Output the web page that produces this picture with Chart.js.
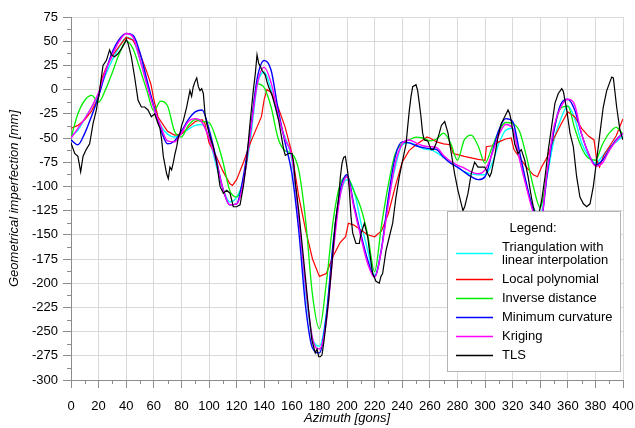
<!DOCTYPE html>
<html>
<head>
<meta charset="utf-8">
<script src="https://cdn.jsdelivr.net/npm/chart.js@4.4.1/dist/chart.umd.min.js"></script>
<style>
  html, body { margin: 0; padding: 0; background: #fff; }
  #wrap { width: 635px; height: 428px; }
</style>
</head>
<body>
<div id="wrap"><canvas id="imperfectionChart" width="635" height="428"></canvas></div>
<script>
// azimuth grid (gons) shared by the interpolated surfaces
var azimuth = [0, 5, 10, 15, 20, 25, 30, 35, 40, 45, 50, 55, 60, 65, 70, 75, 80, 85, 90, 95,
  100, 105, 110, 115, 120, 125, 130, 135, 140, 145, 150, 155, 160, 165, 170, 175, 180, 185, 190, 195,
  200, 205, 210, 215, 220, 225, 230, 235, 240, 245, 250, 255, 260, 265, 270, 275, 280, 285, 290, 295,
  300, 305, 310, 315, 320, 325, 330, 335, 340, 345, 350, 355, 360, 365, 370, 375, 380, 385, 390, 395, 400];

var triangulation = [-48, -42, -30, -18, -4, 15, 31, 44, 54, 51, 31, 7, -18, -37, -46, -49, -46, -41, -37, -36,
  -50, -77, -102, -116, -111, -93, -52, 5, 18, 0, -29, -49, -72, -135, -209, -257, -265, -232, -160, -110,
  -93, -104, -137, -166, -192, -163, -113, -80, -57, -55, -57, -61, -62, -65, -70, -75, -80, -85, -87, -88,
  -88, -77, -56, -42, -40, -70, -99, -122, -130, -90, -52, -30, -17, -30, -55, -69, -76, -69, -60, -54, -48];

var inverseDistance = [-50, -25, -11, -6, -13, 0, 18, 37, 50, 42, 21, -1, -22, -12, -17, -43, -49, -37, -31, -33,
  -34, -50, -74, -104, -111, -92, -45, 6, 2, -18, -50, -63, -66, -83, -135, -212, -247, -200, -135, -98,
  -90, -105, -122, -150, -188, -140, -98, -66, -56, -52, -49, -50, -53, -51, -45, -55, -73, -52, -47, -58,
  -76, -60, -43, -34, -35, -43, -69, -100, -122, -86, -42, -19, -17, -40, -60, -71, -73, -57, -45, -39, -46];

var minimumCurvature = [-52, -57, -45, -27, -7, 18, 39, 52, 58, 56, 38, 10, -17, -41, -56, -53, -43, -31, -23, -21,
  -41, -70, -102, -119, -118, -89, -42, 12, 30, 20, -20, -54, -86, -145, -224, -267, -272, -234, -158, -105,
  -88, -119, -149, -176, -193, -165, -111, -69, -54, -55, -58, -60, -61, -62, -70, -76, -80, -85, -90, -93,
  -90, -66, -42, -30, -33, -64, -97, -125, -140, -88, -42, -15, -10, -21, -46, -66, -78, -73, -62, -52, -45];

var kriging = [-50, -40, -30, -18, -3, 19, 36, 50, 58, 54, 31, 5, -19, -38, -53, -54, -45, -33, -30, -34,
  -50, -73, -102, -119, -118, -96, -45, 6, 23, 7, -25, -51, -69, -131, -203, -257, -268, -240, -168, -110,
  -90, -122, -152, -180, -194, -165, -118, -76, -56, -52, -55, -58, -59, -60, -68, -74, -78, -81, -85, -87,
  -83, -67, -47, -36, -40, -72, -101, -127, -140, -85, -38, -18, -10, -16, -46, -66, -79, -76, -63, -53, -45];

// local polynomial has step-like jumps, so it keeps its own azimuths
var polyAzimuth = [0, 5, 10, 15, 20, 22, 25, 30, 35, 40, 45, 50, 55, 58, 60, 63, 67, 70, 75, 80, 85, 90, 95, 97,
  100, 105, 110, 115, 117, 120, 125, 130, 135, 138, 140, 142, 145, 150, 155, 160, 165, 170, 175, 180, 185, 190,
  195, 199, 201, 205, 210, 215, 220, 225, 230, 235, 240, 245, 250, 255, 258, 260, 265, 270, 275, 277, 285, 295,
  300, 301, 305, 310, 315, 319, 321, 325, 330, 335, 338, 341, 345, 350, 355, 360, 365, 370, 375, 379, 381, 383,
  386, 390, 395, 400];
var localPolynomial = [-40, -37, -31, -22, -8, 10, 21, 35, 45, 54, 51, 37, 18, 5, -10, -28, -37, -43, -47, -46, -39, -33, -31, -35,
  -55, -68, -84, -97, -99, -93, -75, -55, -38, -28, -10, 0, -3, -18, -38, -65, -110, -145, -175, -193, -190, -172,
  -158, -152, -138, -140, -145, -150, -152, -146, -128, -100, -75, -63, -57, -52, -49, -50, -54, -56, -57, -66, -69, -72,
  -73, -59, -58, -54, -51, -50, -62, -70, -80, -88, -90, -80, -70, -50, -36, -23, -28, -40, -48, -52, -73, -80,
  -68, -59, -48, -30];

// TLS measurement
var tlsAzimuth = [0, 2.7, 5, 7, 8.7, 11, 13.5, 16, 18.4, 20.8, 23.2, 25.6, 28, 29.2, 31.6, 34, 36.5, 38.9, 40.1, 41.3,
  43.7, 46.1, 48.6, 51, 53.4, 55.8, 58.2, 60.6, 63, 64.5, 65.7, 66.9, 69.3, 70.5, 71.7, 72.9, 74.2, 75.4, 76.6, 77.8,
  79, 80.2, 81.4, 83.8, 86.2, 87.4, 88.6, 89.8, 91.1, 92.3, 93.5, 94.7, 95.9, 97.1, 98.3, 100.7, 103.1, 105.6, 108, 110.4,
  112.8, 115.2, 116.4, 117.6, 120, 122.5, 124.9, 127.3, 129.7, 132.1, 133.6, 134.8, 136, 137.2, 138.4, 140.8, 142, 143.2, 145.7, 148.1,
  150.5, 152.9, 154.1, 155.3, 157.7, 160.1, 161.3, 162.6, 165, 167.4, 169.8, 172.2, 174.6, 177, 178.3, 179.5, 180.7, 181.9, 183.1, 184.3,
  186.7, 189.1, 191.5, 194, 195.2, 196.4, 197.6, 198.8, 200.5, 201.7, 202.9, 204.1, 206.5, 208.9, 210.1, 212.6, 213.8, 215, 216.2, 218.6,
  221, 223.4, 224.6, 225.8, 228.3, 230.7, 233.1, 235.5, 237.9, 240.3, 242.8, 244, 245.2, 246.4, 247.6, 250, 251.2, 252.4, 253.6, 254.8,
  256, 258.5, 260.9, 262.6, 264.5, 266.9, 268.4, 270.8, 273.2, 275.6, 278, 280.4, 282.8, 284, 285.3, 287.7, 290, 292.5, 294.9, 297.3,
  299.8, 302.2, 303.4, 304.6, 307, 309.4, 311.8, 314.3, 316.7, 317.9, 319, 321.5, 323.9, 326.3, 328.8, 331.2, 333.6, 335, 338, 341,
  343.5, 345.9, 348.3, 350.7, 353.1, 355.6, 356.8, 359.2, 361.6, 364, 366.4, 368.8, 371.3, 373.7, 376.1, 378.5, 380.9, 383.3, 385.7, 388.2,
  391.8, 393, 395.4, 397.8, 400];
var tls = [-55, -66, -69, -85, -69, -62, -56, -35, -21, 0, 25, 30, 41, 36, 34, 37, 42, 48, 52, 48,
  34, 13, -11, -18, -18, -21, -28, -25, -35, -40, -52, -69, -87, -92, -80, -83, -75, -66, -59, -49,
  -45, -37, -32, -18, -1, -7, 3, 8, 12, 3, -1, 1, -4, -25, -35, -49, -59, -76, -100, -107,
  -104, -107, -114, -121, -121, -119, -100, -73, -35, -1, 17, 36, 27, 24, 20, 15, 8, 3, -6, -18,
  -32, -52, -62, -68, -66, -66, -75, -97, -125, -159, -193, -228, -259, -272, -268, -276, -276, -274, -262, -248,
  -217, -180, -138, -111, -90, -76, -70, -69, -85, -104, -131, -148, -159, -159, -149, -138, -145, -152, -166, -190,
  -198, -200, -193, -190, -166, -152, -138, -111, -90, -73, -56, -38, -21, -7, 3, 5, -1, -14, -28, -45,
  -52, -53, -62, -62, -56, -45, -37, -33, -45, -66, -87, -104, -118, -125, -121, -107, -87, -75, -80, -80,
  -80, -87, -90, -86, -69, -49, -35, -28, -21, -25, -32, -56, -66, -62, -73, -90, -111, -121, -135, -115,
  -90, -62, -38, -14, -4, 1, -2, -21, -45, -59, -90, -111, -118, -121, -118, -100, -73, -45, -18, -1,
  13, 12, -18, -42, -52];

var xTicks = { min: 0, max: 400, step: 20, minor: 10 };
var yTicks = { min: -300, max: 75, step: 25, minor: 12.5 };

function toPoints(xs, ys) {
  return xs.map(function (x, i) { return { x: x, y: ys[i] }; });
}

var FONT = "'Liberation Sans', Arial, sans-serif";
var AXIS_GREY = '#8c8c8c';

var legendItems = [
  { text: ['Triangulation with', 'linear interpolation'], color: '#00ffff' },
  { text: ['Local polynomial'], color: '#ff0000' },
  { text: ['Inverse distance'], color: '#00ee00' },
  { text: ['Minimum curvature'], color: '#0000ff' },
  { text: ['Kriging'], color: '#ff00ff' },
  { text: ['TLS'], color: '#000000' }
];

// minor tick marks outside both axes
var minorTicks = {
  id: 'minorTicks',
  afterDraw: function (chart) {
    var ctx = chart.ctx, xs = chart.scales.x, ys = chart.scales.y;
    var area = chart.chartArea;
    ctx.save();
    ctx.strokeStyle = AXIS_GREY;
    ctx.lineWidth = 1;
    ctx.beginPath();
    for (var g = xTicks.min + xTicks.minor; g < xTicks.max; g += xTicks.step) {
      var px = Math.round(xs.getPixelForValue(g)) + 0.5;
      ctx.moveTo(px, area.bottom);
      ctx.lineTo(px, area.bottom + 4);
    }
    for (var v = yTicks.min + yTicks.minor; v < yTicks.max; v += yTicks.step) {
      var py = Math.round(ys.getPixelForValue(v)) + 0.5;
      ctx.moveTo(area.left, py);
      ctx.lineTo(area.left - 4, py);
    }
    ctx.stroke();
    ctx.restore();
  }
};

// framed legend box drawn on top of the curves
var boxLegend = {
  id: 'boxLegend',
  afterDraw: function (chart) {
    var ctx = chart.ctx;
    var left = 447, top = 211, w = 173, h = 160;
    ctx.save();
    ctx.fillStyle = '#ffffff';
    ctx.fillRect(left, top, w, h);
    ctx.strokeStyle = '#b4b4b4';
    ctx.lineWidth = 1;
    ctx.strokeRect(left + 0.5, top + 0.5, w, h);

    ctx.fillStyle = '#000';
    ctx.font = '13px ' + FONT;
    ctx.textBaseline = 'middle';
    ctx.textAlign = 'center';
    ctx.fillText('Legend:', 533, 228);

    ctx.textAlign = 'left';
    var y = 247;
    legendItems.forEach(function (item) {
      var lineY = item.text.length > 1 ? y + 6.5 : y;
      ctx.strokeStyle = item.color;
      ctx.lineWidth = 1.5;
      ctx.beginPath();
      ctx.moveTo(456, lineY);
      ctx.lineTo(493, lineY);
      ctx.stroke();
      ctx.fillStyle = '#000';
      item.text.forEach(function (t, k) {
        ctx.fillText(t, 502, y + k * 13.5);
      });
      y += 13.5 * (item.text.length - 1) + 19;
    });
    ctx.restore();
  }
};

var ctx = document.getElementById('imperfectionChart').getContext('2d');
var chart = new Chart(ctx, {
  type: 'line',
  data: {
    datasets: [{
      label: 'TLS',
      data: toPoints(tlsAzimuth, tls),
      borderColor: '#000000',
      borderWidth: 1.2,
      tension: 0
    }, {
      label: 'Kriging',
      data: toPoints(azimuth, kriging),
      borderColor: '#ff00ff',
      borderWidth: 1.4,
      cubicInterpolationMode: 'monotone'
    }, {
      label: 'Minimum curvature',
      data: toPoints(azimuth, minimumCurvature),
      borderColor: '#0000ff',
      borderWidth: 1.4,
      cubicInterpolationMode: 'monotone'
    }, {
      label: 'Inverse distance',
      data: toPoints(azimuth, inverseDistance),
      borderColor: '#00ee00',
      borderWidth: 1.3,
      cubicInterpolationMode: 'monotone'
    }, {
      label: 'Local polynomial',
      data: toPoints(polyAzimuth, localPolynomial),
      borderColor: '#ff0000',
      borderWidth: 1.2,
      tension: 0
    }, {
      label: 'Triangulation with linear interpolation',
      data: toPoints(azimuth, triangulation),
      borderColor: '#00ffff',
      borderWidth: 1.4,
      cubicInterpolationMode: 'monotone'
    }]
  },
  options: {
    responsive: false,
    animation: false,
    elements: { point: { radius: 0, hoverRadius: 0 } },
    layout: { padding: { left: 0, right: 12, top: 17, bottom: 0 } },
    plugins: {
      legend: { display: false },
      tooltip: { enabled: false }
    },
    scales: {
      x: {
        type: 'linear',
        min: xTicks.min,
        max: xTicks.max,
        afterFit: function (scale) {
          scale.height = 48;
          // keep the last label from pushing the plot inwards
          scale.paddingLeft = 0;
          scale.paddingRight = 0;
        },
        ticks: { stepSize: xTicks.step, padding: 11, color: '#000', font: { family: FONT, size: 13 }, maxRotation: 0 },
        grid: { color: '#d9d9d9', tickColor: AXIS_GREY, tickLength: 8, lineWidth: 1 },
        border: { color: AXIS_GREY, width: 1 },
        title: {
          display: true,
          text: 'Azimuth [gons]',
          color: '#000',
          font: { family: FONT, size: 13, style: 'italic' },
          padding: { top: 0, bottom: 2 }
        }
      },
      y: {
        type: 'linear',
        min: yTicks.min,
        max: yTicks.max,
        afterFit: function (scale) { scale.width = 71; },
        ticks: { stepSize: yTicks.step, padding: 5, color: '#000', font: { family: FONT, size: 13 } },
        grid: { color: '#d9d9d9', tickColor: AXIS_GREY, tickLength: 8, lineWidth: 1 },
        border: { color: AXIS_GREY, width: 1 },
        title: {
          display: true,
          text: 'Geometrical imperfection [mm]',
          color: '#000',
          font: { family: FONT, size: 13, style: 'italic' },
          padding: { top: 7, bottom: 0 }
        }
      }
    }
  },
  plugins: [minorTicks, boxLegend]
});
</script>
</body>
</html>
